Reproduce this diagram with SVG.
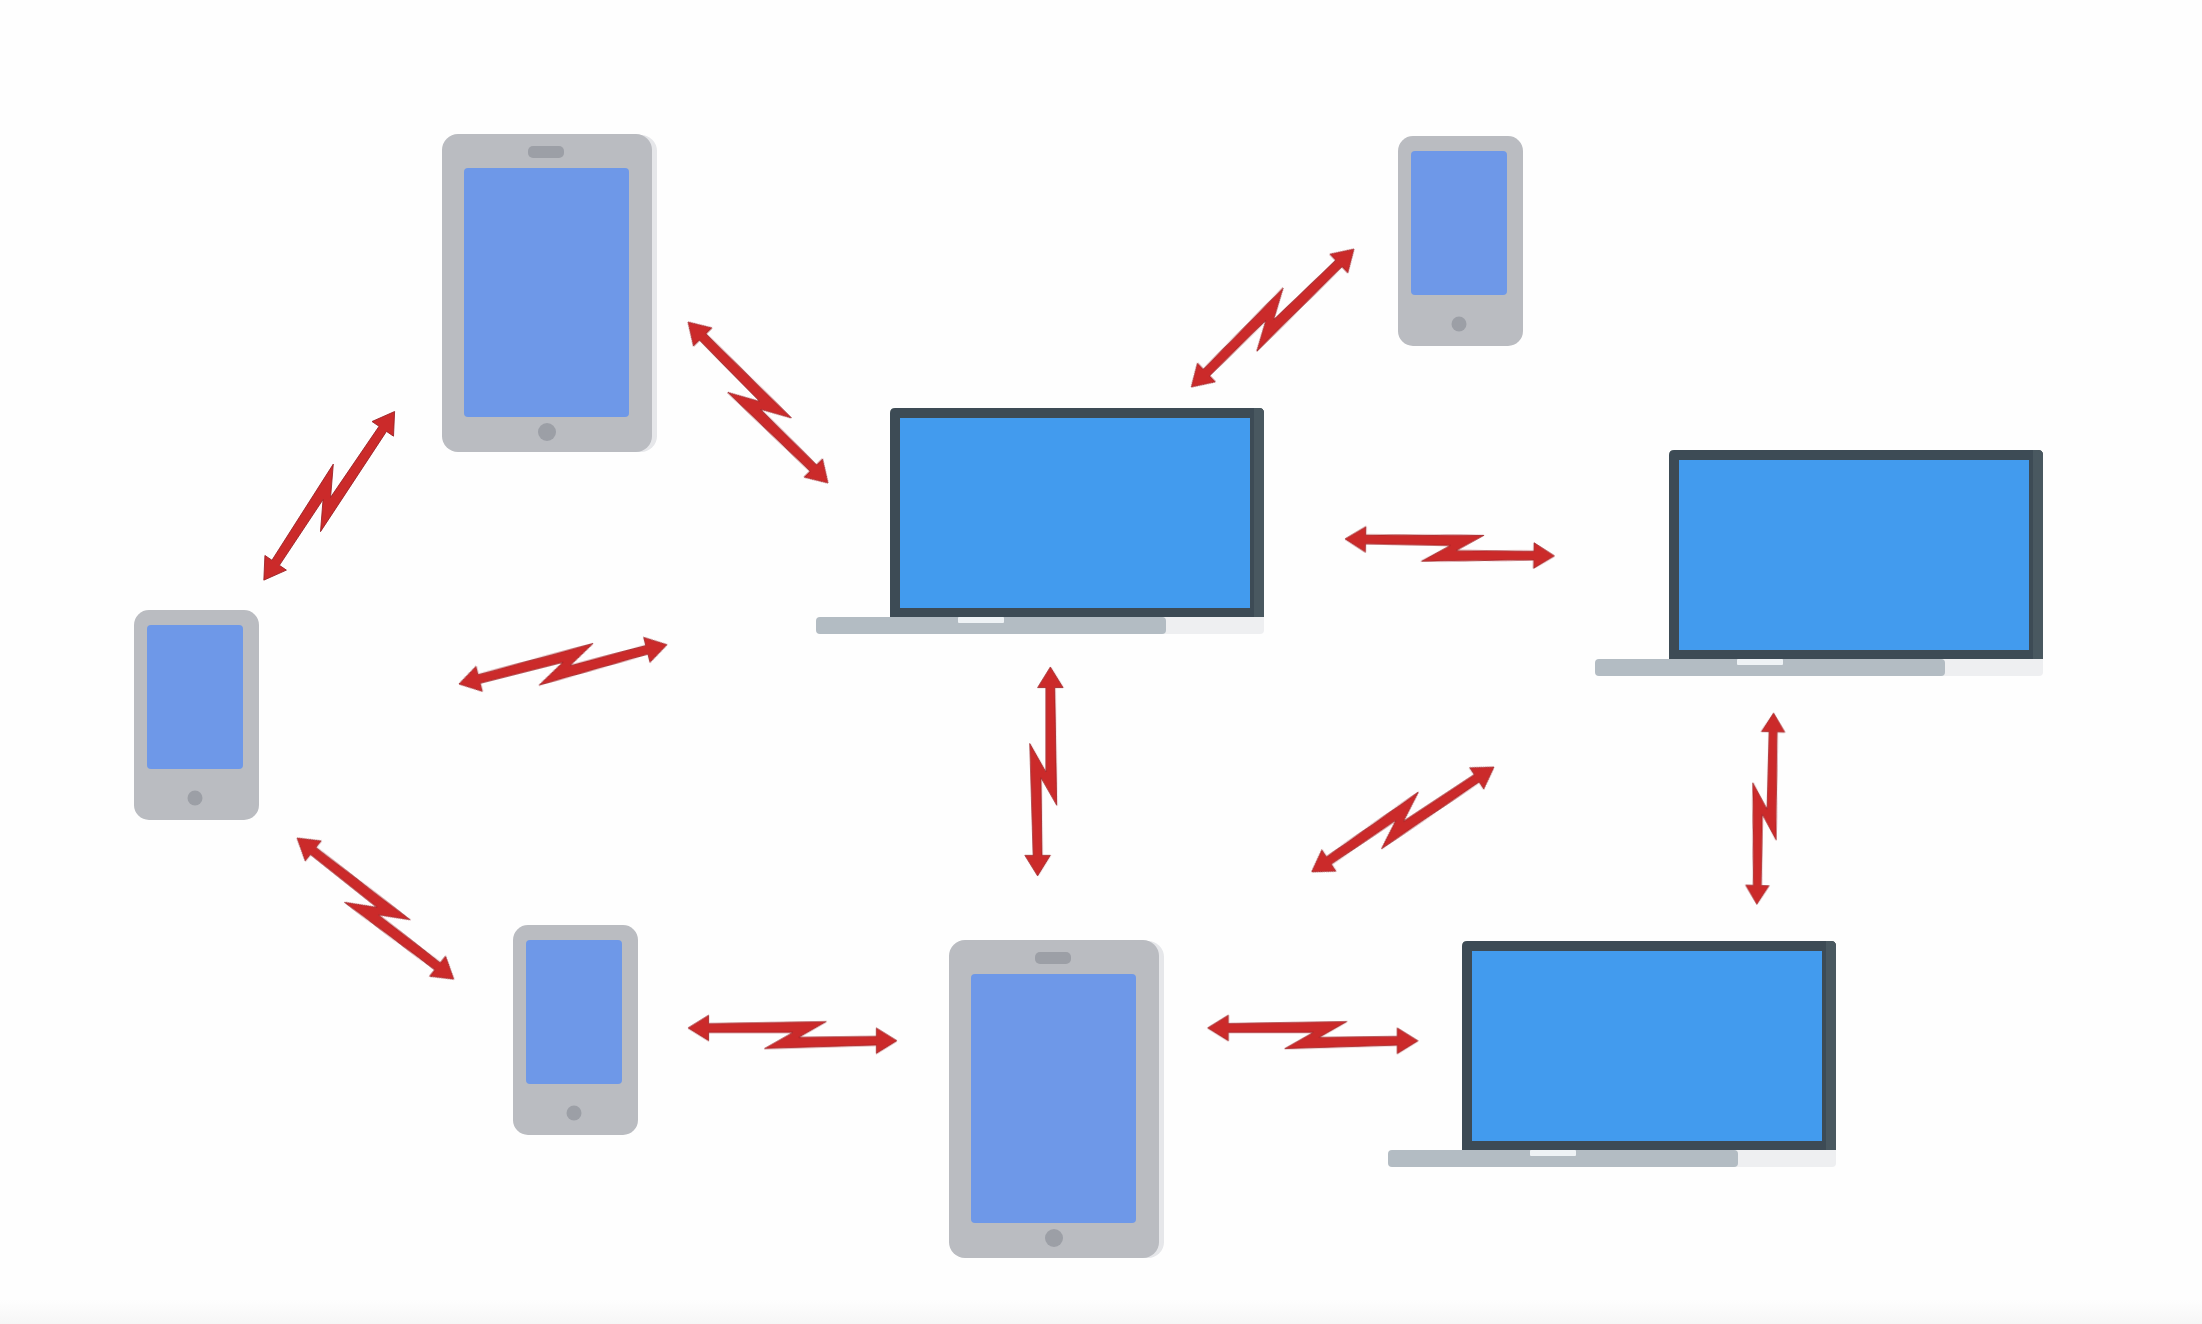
<svg xmlns="http://www.w3.org/2000/svg" xmlns:xlink="http://www.w3.org/1999/xlink" width="2202" height="1324" viewBox="0 0 2202 1324">
<style>
.bg{fill:#fefefe}
.body{fill:#babcc1}
.shade{fill:#e6e7ea}
.scr{fill:#6e98e8}
.knob{fill:#9c9fa6}
.lid{fill:#3e4c54}
.lidr{fill:#4a5860}
.lcd{fill:#429bee}
.base{fill:#b3bcc3}
.basel{fill:#eeeff1}
.notch{fill:#eef2f5}
.bolt{fill:#cb2a2a;stroke:#9a2226;stroke-width:.8;stroke-linejoin:miter}
.soft{filter:url(#soft)}
</style>
<defs>
<filter id="soft" x="-5%" y="-5%" width="110%" height="110%"><feGaussianBlur stdDeviation="0.6"/></filter>
<linearGradient id="fade" x1="0" y1="0" x2="0" y2="1"><stop offset="0" stop-color="#fefefe"/><stop offset="1" stop-color="#f6f6f6"/></linearGradient>
<g id="tablet">
<rect class="shade" x="5" y="1" width="210" height="317" rx="16"/>
<rect class="body" x="0" y="0" width="210" height="318" rx="16"/>
<rect class="scr" x="22" y="34" width="165" height="249" rx="4"/>
<rect class="knob" x="86" y="12" width="36" height="12" rx="5"/>
<circle class="knob" cx="105" cy="298" r="9"/>
</g>
<g id="phone">
<rect class="body" x="0" y="0" width="125" height="210" rx="15"/>
<rect class="scr" x="13" y="15" width="96" height="144" rx="4"/>
<circle class="knob" cx="61" cy="188" r="7.5"/>
</g>
<g id="laptop">
<path class="basel" d="M200 0H374V13Q374 17 370 17H200Z"/>
<rect class="base" x="-74" y="0" width="350" height="17" rx="4"/>
<path class="lid" d="M0 0V-204Q0 -209 5 -209H369Q374 -209 374 -204V0Z"/>
<path class="lidr" d="M364 -209H369Q374 -209 374 -204V0H364Z"/>
<rect class="lcd" x="10" y="-199" width="350" height="190"/>
<rect class="notch" x="68" y="0" width="46" height="6" rx="1"/>
</g>
<path id="bolt" class="bolt" d="M0 0L21 -13L21 -4.5L141 -6.5L113 9.5L192 8.5L192 0L213 13L192 26L192 17.5L78 21L107 4.5L21 4.5L21 13Z"/>
</defs>
<rect class="bg" width="2202" height="1324"/>
<rect x="0" y="1300" width="2202" height="24" fill="url(#fade)"/>
<g id="connectors" class="soft">
<use xlink:href="#bolt" href="#bolt" transform="translate(394.6 411.5) rotate(124.3)"/>
<use xlink:href="#bolt" href="#bolt" transform="translate(688 322) rotate(45.5)"/>
<use xlink:href="#bolt" href="#bolt" transform="translate(1354 249) rotate(136.2)"/>
<use xlink:href="#bolt" href="#bolt" transform="translate(1345 539) rotate(1.14) scale(.985)"/>
<use xlink:href="#bolt" href="#bolt" transform="translate(459 684) rotate(-14.2) scale(.992)"/>
<use xlink:href="#bolt" href="#bolt" transform="translate(1050.4 667) rotate(90) scale(.981)"/>
<use xlink:href="#bolt" href="#bolt" transform="translate(297 838) rotate(38.5) scale(.989)"/>
<use xlink:href="#bolt" href="#bolt" transform="translate(1494 767) rotate(146.6) scale(.986)"/>
<use xlink:href="#bolt" href="#bolt" transform="translate(1773.6 713) rotate(91.5) scale(.9)"/>
<use xlink:href="#bolt" href="#bolt" transform="translate(688 1028) rotate(0) scale(.981)"/>
<use xlink:href="#bolt" href="#bolt" transform="translate(1207.6 1028) rotate(0) scale(.988)"/>
</g>
<g id="tablet-top" class="soft"><use xlink:href="#tablet" href="#tablet" x="442" y="134"/></g>
<g id="tablet-bottom" class="soft"><use xlink:href="#tablet" href="#tablet" x="949" y="940"/></g>
<g id="phone-top-right" class="soft"><use xlink:href="#phone" href="#phone" x="1398" y="136"/></g>
<g id="phone-left" class="soft"><use xlink:href="#phone" href="#phone" x="134" y="610"/></g>
<g id="phone-bottom" class="soft"><use xlink:href="#phone" href="#phone" x="513" y="925"/></g>
<g id="laptop-center" class="soft"><use xlink:href="#laptop" href="#laptop" x="890" y="617"/></g>
<g id="laptop-right" class="soft"><use xlink:href="#laptop" href="#laptop" x="1669" y="659"/></g>
<g id="laptop-bottom" class="soft"><use xlink:href="#laptop" href="#laptop" x="1462" y="1150"/></g>
</svg>
